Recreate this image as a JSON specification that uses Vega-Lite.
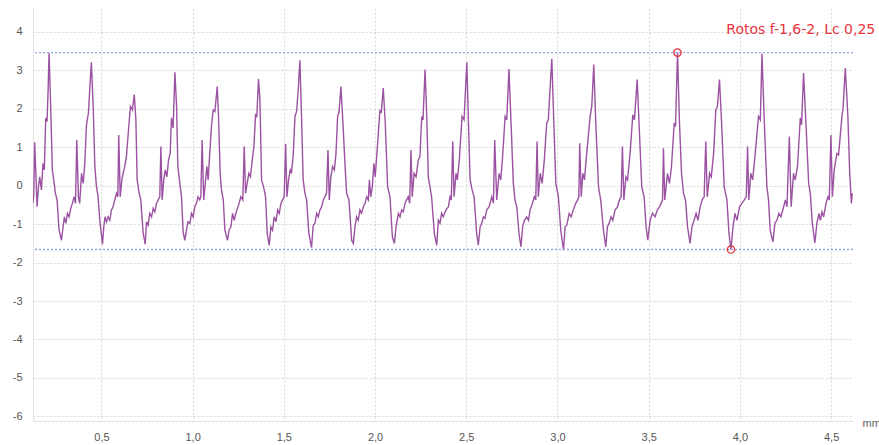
{
"$schema": "https://vega.github.io/schema/vega-lite/v6.json",
"width": 820, "height": 413,
"autosize": {"type": "none"},
"padding": {"left": 33, "top": 8, "right": 26, "bottom": 24},
"background": "white",
"config": {"view": {"stroke": null}, "font": "Liberation Sans"},
"datasets": {
"profile": [
{"x":0.124,"y":-0.46},{"x":0.129,"y":-0.29},{"x":0.134,"y":1.13},{"x":0.142,"y":0.15},{"x":0.147,"y":-0.55},{"x":0.155,"y":-0.03},{"x":0.162,"y":0.23},{"x":0.171,"y":-0.11},{"x":0.180,"y":0.58},{"x":0.187,"y":0.41},{"x":0.195,"y":1.76},{"x":0.202,"y":1.67},{"x":0.208,"y":2.50},{"x":0.213,"y":3.45},{"x":0.222,"y":2.06},{"x":0.231,"y":0.41},{"x":0.241,"y":0.06},{"x":0.248,"y":-0.20},{"x":0.257,"y":-0.37},{"x":0.268,"y":-1.16},{"x":0.281,"y":-1.42},{"x":0.290,"y":-1.07},{"x":0.297,"y":-0.81},{"x":0.305,"y":-0.98},{"x":0.314,"y":-0.72},{"x":0.323,"y":-0.81},{"x":0.332,"y":-0.59},{"x":0.341,"y":-0.46},{"x":0.350,"y":-0.29},{"x":0.358,"y":-0.46},{"x":0.365,"y":1.19},{"x":0.374,"y":-0.29},{"x":0.381,"y":-0.46},{"x":0.391,"y":0.32},{"x":0.400,"y":0.06},{"x":0.409,"y":0.58},{"x":0.418,"y":1.58},{"x":0.429,"y":1.89},{"x":0.436,"y":2.50},{"x":0.445,"y":3.21},{"x":0.455,"y":2.06},{"x":0.464,"y":0.50},{"x":0.473,"y":-0.03},{"x":0.482,"y":-0.29},{"x":0.491,"y":-0.90},{"x":0.506,"y":-1.52},{"x":0.513,"y":-1.07},{"x":0.520,"y":-0.81},{"x":0.528,"y":-0.94},{"x":0.537,"y":-0.81},{"x":0.546,"y":-0.90},{"x":0.555,"y":-0.63},{"x":0.564,"y":-0.55},{"x":0.573,"y":-0.37},{"x":0.583,"y":-0.20},{"x":0.590,"y":-0.29},{"x":0.595,"y":1.32},{"x":0.603,"y":-0.29},{"x":0.612,"y":0.15},{"x":0.619,"y":0.32},{"x":0.628,"y":0.50},{"x":0.637,"y":0.76},{"x":0.650,"y":1.54},{"x":0.659,"y":2.06},{"x":0.670,"y":1.97},{"x":0.680,"y":2.37},{"x":0.689,"y":1.71},{"x":0.696,"y":0.15},{"x":0.707,"y":-0.20},{"x":0.716,"y":-0.37},{"x":0.729,"y":-1.24},{"x":0.740,"y":-1.52},{"x":0.747,"y":-0.94},{"x":0.756,"y":-1.03},{"x":0.765,"y":-0.72},{"x":0.775,"y":-0.81},{"x":0.784,"y":-0.59},{"x":0.793,"y":-0.68},{"x":0.802,"y":-0.46},{"x":0.811,"y":-0.37},{"x":0.820,"y":-0.29},{"x":0.826,"y":1.02},{"x":0.833,"y":-0.37},{"x":0.842,"y":0.15},{"x":0.850,"y":0.41},{"x":0.859,"y":0.23},{"x":0.868,"y":0.67},{"x":0.877,"y":0.84},{"x":0.884,"y":1.76},{"x":0.893,"y":1.50},{"x":0.903,"y":2.95},{"x":0.912,"y":2.06},{"x":0.919,"y":0.50},{"x":0.930,"y":0.06},{"x":0.939,"y":-0.29},{"x":0.948,"y":-1.20},{"x":0.957,"y":-1.42},
{"x":0.966,"y":-1.16},{"x":0.975,"y":-0.94},{"x":0.985,"y":-0.98},{"x":0.994,"y":-0.72},{"x":1.003,"y":-0.81},{"x":1.012,"y":-0.55},{"x":1.021,"y":-0.46},{"x":1.030,"y":-0.29},{"x":1.039,"y":-0.37},{"x":1.045,"y":-0.29},{"x":1.052,"y":1.19},{"x":1.061,"y":-0.37},{"x":1.071,"y":0.15},{"x":1.078,"y":0.50},{"x":1.085,"y":0.15},{"x":1.094,"y":0.84},{"x":1.103,"y":1.54},{"x":1.113,"y":1.97},{"x":1.122,"y":1.93},{"x":1.135,"y":2.58},{"x":1.142,"y":1.80},{"x":1.151,"y":0.32},{"x":1.158,"y":-0.11},{"x":1.168,"y":-0.37},{"x":1.177,"y":-1.16},{"x":1.191,"y":-1.42},{"x":1.200,"y":-1.16},{"x":1.210,"y":-1.07},{"x":1.219,"y":-0.72},{"x":1.228,"y":-0.90},{"x":1.237,"y":-0.72},{"x":1.246,"y":-0.59},{"x":1.255,"y":-0.46},{"x":1.264,"y":-0.29},{"x":1.275,"y":-0.37},{"x":1.283,"y":1.02},{"x":1.290,"y":-0.20},{"x":1.299,"y":0.06},{"x":1.308,"y":0.32},{"x":1.317,"y":0.23},{"x":1.327,"y":0.67},{"x":1.336,"y":1.02},{"x":1.345,"y":1.84},{"x":1.352,"y":1.80},{"x":1.361,"y":2.77},{"x":1.369,"y":2.23},{"x":1.378,"y":0.15},{"x":1.389,"y":-0.03},{"x":1.400,"y":-0.29},{"x":1.409,"y":-1.24},{"x":1.420,"y":-1.55},{"x":1.429,"y":-1.07},{"x":1.438,"y":-1.16},{"x":1.447,"y":-0.81},{"x":1.457,"y":-0.94},{"x":1.466,"y":-0.63},{"x":1.475,"y":-0.72},{"x":1.484,"y":-0.46},{"x":1.493,"y":-0.37},{"x":1.502,"y":-0.29},{"x":1.510,"y":1.09},{"x":1.517,"y":-0.29},{"x":1.526,"y":0.15},{"x":1.535,"y":0.41},{"x":1.542,"y":0.32},{"x":1.552,"y":0.84},{"x":1.561,"y":1.80},{"x":1.570,"y":1.93},{"x":1.579,"y":2.50},{"x":1.588,"y":3.26},{"x":1.597,"y":1.80},{"x":1.606,"y":0.15},{"x":1.616,"y":-0.20},{"x":1.625,"y":-0.37},{"x":1.637,"y":-1.24},{"x":1.652,"y":-1.61},{"x":1.661,"y":-1.03},{"x":1.670,"y":-0.98},{"x":1.680,"y":-0.72},{"x":1.689,"y":-0.81},{"x":1.698,"y":-0.63},{"x":1.707,"y":-0.55},{"x":1.716,"y":-0.37},{"x":1.725,"y":-0.29},{"x":1.734,"y":-0.20},{"x":1.742,"y":0.93},{"x":1.749,"y":-0.37},{"x":1.758,"y":0.23},{"x":1.767,"y":0.50},{"x":1.777,"y":0.41},{"x":1.786,"y":0.84},{"x":1.795,"y":1.82},{"x":1.802,"y":1.89},{"x":1.813,"y":2.58},{"x":1.824,"y":1.63},
{"x":1.835,"y":0.58},{"x":1.844,"y":-0.20},{"x":1.857,"y":-0.37},{"x":1.872,"y":-1.42},{"x":1.881,"y":-1.50},{"x":1.890,"y":-1.07},{"x":1.899,"y":-0.81},{"x":1.908,"y":-0.90},{"x":1.917,"y":-0.63},{"x":1.926,"y":-0.72},{"x":1.936,"y":-0.55},{"x":1.945,"y":-0.46},{"x":1.954,"y":-0.29},{"x":1.963,"y":-0.37},{"x":1.969,"y":0.15},{"x":1.976,"y":-0.29},{"x":1.985,"y":-0.03},{"x":1.994,"y":0.58},{"x":2.001,"y":0.23},{"x":2.009,"y":0.76},{"x":2.018,"y":1.37},{"x":2.027,"y":1.97},{"x":2.034,"y":1.89},{"x":2.045,"y":2.54},{"x":2.056,"y":1.63},{"x":2.069,"y":-0.03},{"x":2.082,"y":-0.29},{"x":2.095,"y":-1.33},{"x":2.106,"y":-1.50},{"x":2.115,"y":-1.07},{"x":2.128,"y":-0.72},{"x":2.137,"y":-0.81},{"x":2.146,"y":-0.63},{"x":2.155,"y":-0.68},{"x":2.164,"y":-0.46},{"x":2.173,"y":-0.37},{"x":2.182,"y":-0.29},{"x":2.190,"y":-0.46},{"x":2.197,"y":0.93},{"x":2.204,"y":-0.29},{"x":2.214,"y":0.32},{"x":2.225,"y":0.23},{"x":2.237,"y":0.67},{"x":2.246,"y":0.76},{"x":2.256,"y":1.80},{"x":2.263,"y":1.71},{"x":2.274,"y":3.02},{"x":2.283,"y":1.89},{"x":2.292,"y":0.23},{"x":2.301,"y":-0.03},{"x":2.310,"y":-0.29},{"x":2.325,"y":-1.24},{"x":2.338,"y":-1.55},{"x":2.347,"y":-0.90},{"x":2.356,"y":-0.98},{"x":2.365,"y":-0.72},{"x":2.374,"y":-0.81},{"x":2.389,"y":-0.63},{"x":2.402,"y":-0.55},{"x":2.411,"y":-0.29},{"x":2.418,"y":-0.37},{"x":2.426,"y":1.15},{"x":2.433,"y":-0.29},{"x":2.444,"y":0.32},{"x":2.451,"y":0.15},{"x":2.462,"y":0.67},{"x":2.477,"y":1.80},{"x":2.488,"y":1.71},{"x":2.503,"y":3.21},{"x":2.512,"y":1.63},{"x":2.521,"y":0.15},{"x":2.532,"y":-0.11},{"x":2.543,"y":-0.29},{"x":2.557,"y":-1.24},{"x":2.566,"y":-1.55},{"x":2.576,"y":-1.07},{"x":2.585,"y":-0.98},{"x":2.594,"y":-0.81},{"x":2.603,"y":-0.85},{"x":2.612,"y":-0.63},{"x":2.625,"y":-0.55},{"x":2.640,"y":-0.29},{"x":2.649,"y":-0.46},{"x":2.656,"y":1.19},
{"x":2.667,"y":-0.37},{"x":2.680,"y":0.32},{"x":2.689,"y":0.15},{"x":2.698,"y":0.67},{"x":2.713,"y":1.80},{"x":2.722,"y":1.71},{"x":2.734,"y":3.03},{"x":2.745,"y":1.71},{"x":2.758,"y":0.06},{"x":2.767,"y":-0.37},{"x":2.777,"y":-0.55},{"x":2.789,"y":-1.24},{"x":2.800,"y":-1.59},{"x":2.809,"y":-1.07},{"x":2.819,"y":-0.90},{"x":2.831,"y":-0.81},{"x":2.841,"y":-0.90},{"x":2.850,"y":-0.63},{"x":2.863,"y":-0.46},{"x":2.873,"y":-0.29},{"x":2.881,"y":-0.37},{"x":2.888,"y":1.15},{"x":2.895,"y":-0.29},{"x":2.906,"y":0.32},{"x":2.916,"y":0.06},{"x":2.928,"y":0.67},{"x":2.941,"y":1.63},{"x":2.950,"y":1.71},{"x":2.959,"y":2.50},{"x":2.969,"y":3.30},{"x":2.980,"y":1.63},{"x":2.991,"y":0.06},{"x":3.005,"y":-0.29},{"x":3.018,"y":-1.16},{"x":3.033,"y":-1.68},{"x":3.042,"y":-1.07},{"x":3.051,"y":-1.03},{"x":3.064,"y":-0.72},{"x":3.075,"y":-0.81},{"x":3.087,"y":-0.63},{"x":3.100,"y":-0.46},{"x":3.111,"y":-0.37},{"x":3.117,"y":-0.29},{"x":3.122,"y":1.10},{"x":3.130,"y":-0.29},{"x":3.139,"y":0.32},{"x":3.148,"y":0.15},{"x":3.157,"y":0.67},{"x":3.179,"y":1.80},{"x":3.188,"y":2.06},{"x":3.199,"y":3.15},{"x":3.210,"y":1.63},{"x":3.225,"y":-0.03},{"x":3.237,"y":-0.37},{"x":3.252,"y":-1.16},{"x":3.265,"y":-1.59},{"x":3.274,"y":-1.07},{"x":3.283,"y":-0.98},{"x":3.294,"y":-0.81},{"x":3.303,"y":-0.90},{"x":3.316,"y":-0.63},{"x":3.329,"y":-0.55},{"x":3.340,"y":-0.37},{"x":3.349,"y":-0.29},{"x":3.356,"y":1.02},{"x":3.364,"y":-0.37},{"x":3.375,"y":0.23},{"x":3.384,"y":0.15},{"x":3.398,"y":0.84},{"x":3.413,"y":1.84},{"x":3.422,"y":1.71},{"x":3.437,"y":2.76},{"x":3.448,"y":1.54},{"x":3.462,"y":-0.03},{"x":3.475,"y":-0.29},{"x":3.486,"y":-1.07},{"x":3.495,"y":-1.42},{"x":3.508,"y":-0.90},{"x":3.521,"y":-0.72},
{"x":3.535,"y":-0.81},{"x":3.548,"y":-0.63},{"x":3.559,"y":-0.55},{"x":3.568,"y":-0.46},{"x":3.576,"y":-0.37},{"x":3.581,"y":0.97},{"x":3.588,"y":-0.37},{"x":3.603,"y":0.32},{"x":3.614,"y":0.06},{"x":3.625,"y":0.50},{"x":3.640,"y":1.63},{"x":3.647,"y":1.54},{"x":3.658,"y":3.46},{"x":3.669,"y":1.63},{"x":3.680,"y":0.32},{"x":3.691,"y":-0.20},{"x":3.702,"y":-0.37},{"x":3.713,"y":-1.07},{"x":3.727,"y":-1.50},{"x":3.737,"y":-1.07},{"x":3.749,"y":-0.90},{"x":3.760,"y":-0.72},{"x":3.770,"y":-0.90},{"x":3.782,"y":-0.55},{"x":3.793,"y":-0.37},{"x":3.804,"y":-0.29},{"x":3.813,"y":1.15},{"x":3.821,"y":-0.29},{"x":3.834,"y":0.32},{"x":3.843,"y":0.23},{"x":3.856,"y":0.84},{"x":3.868,"y":1.97},{"x":3.877,"y":2.06},{"x":3.888,"y":2.76},{"x":3.899,"y":1.71},{"x":3.914,"y":-0.03},{"x":3.929,"y":-0.37},{"x":3.940,"y":-1.24},{"x":3.951,"y":-1.66},{"x":3.962,"y":-1.07},{"x":3.973,"y":-0.72},{"x":3.984,"y":-0.90},{"x":3.998,"y":-0.55},{"x":4.011,"y":-0.46},{"x":4.024,"y":-0.37},{"x":4.035,"y":-0.29},{"x":4.042,"y":1.02},{"x":4.049,"y":-0.37},{"x":4.060,"y":0.32},{"x":4.070,"y":0.15},{"x":4.084,"y":0.84},{"x":4.102,"y":1.80},{"x":4.112,"y":1.71},{"x":4.121,"y":3.43},{"x":4.134,"y":1.63},{"x":4.148,"y":-0.03},{"x":4.157,"y":-0.37},{"x":4.166,"y":-1.16},{"x":4.181,"y":-1.46},{"x":4.192,"y":-0.98},{"x":4.203,"y":-0.90},{"x":4.214,"y":-0.72},{"x":4.225,"y":-0.81},{"x":4.240,"y":-0.55},
{"x":4.249,"y":-0.37},{"x":4.258,"y":-0.55},{"x":4.271,"y":1.28},{"x":4.281,"y":-0.55},{"x":4.294,"y":0.32},{"x":4.303,"y":0.15},{"x":4.316,"y":0.50},{"x":4.331,"y":1.76},{"x":4.338,"y":1.58},{"x":4.349,"y":2.93},{"x":4.362,"y":1.63},{"x":4.377,"y":0.06},{"x":4.386,"y":-0.20},{"x":4.397,"y":-0.98},{"x":4.411,"y":-1.49},{"x":4.422,"y":-0.98},{"x":4.433,"y":-0.72},{"x":4.441,"y":-0.90},{"x":4.450,"y":-0.68},{"x":4.459,"y":-0.81},{"x":4.472,"y":-0.46},{"x":4.483,"y":-0.29},{"x":4.490,"y":-0.37},{"x":4.499,"y":1.32},{"x":4.507,"y":-0.29},{"x":4.517,"y":0.41},{"x":4.532,"y":0.84},{"x":4.541,"y":0.80},{"x":4.560,"y":1.84},{"x":4.565,"y":1.97},{"x":4.578,"y":3.06},{"x":4.592,"y":1.80},{"x":4.602,"y":0.32},{"x":4.611,"y":-0.46},{"x":4.616,"y":-0.20}
],
"limits": [{"y": 3.46}, {"y": -1.66}],
"extremes": [{"x": 3.658, "y": 3.46}, {"x": 3.951, "y": -1.66}],
"note": [{"x": 4.742, "y": 4.05, "label": "Rotos f-1,6-2, Lc 0,25"}]
},
"layer": [
{
"data": {"name": "profile"},
"mark": {"type": "line", "color": "#9c52a2", "strokeWidth": 1.4, "clip": true},
"encoding": {
"x": {"field": "x", "type": "quantitative",
"scale": {"domain": [0.125, 4.62], "nice": false, "zero": false},
"axis": {"values": [0.5,1,1.5,2,2.5,3,3.5,4,4.5], "labelExpr": "replace(format(datum.value,'.1f'),'.',',')",
"title": "mm", "titleAngle": 0, "titleAlign": "left", "titleBaseline": "middle", "titleX": 829, "titleY": 2,
"titleFontSize": 11, "titleFontWeight": "normal", "titleColor": "#666",
"ticks": false, "labelPadding": 10, "labelFontSize": 11, "labelColor": "#555",
"grid": true, "gridColor": "#d6d6d6", "gridDash": [2,2], "domainColor": "#e2e2e2"}},
"y": {"field": "y", "type": "quantitative",
"scale": {"domain": [-6.12, 4.62], "nice": false, "zero": false},
"axis": {"values": [-6,-5,-4,-3,-2,-1,0,1,2,3,4], "labelExpr": "'' + datum.value", "title": null,
"ticks": false, "labelPadding": 11, "labelFontSize": 11, "labelColor": "#555",
"grid": true, "gridColor": "#d6d6d6", "gridDash": [2,2], "domainColor": "#e2e2e2"}}
}
},
{
"data": {"name": "limits"},
"mark": {"type": "rule", "color": "#8fa7e6", "strokeDash": [2,2], "strokeWidth": 1.3},
"encoding": {"y": {"field": "y", "type": "quantitative"}}
},
{
"data": {"name": "extremes"},
"mark": {"type": "point", "filled": false, "color": "#e0353a", "size": 55, "strokeWidth": 1.3, "opacity": 1},
"encoding": {"x": {"field": "x", "type": "quantitative"}, "y": {"field": "y", "type": "quantitative"}}
},
{
"data": {"name": "note"},
"mark": {"type": "text", "align": "right", "baseline": "middle", "color": "#e8343c", "fontSize": 14, "font": "DejaVu Sans"},
"encoding": {"x": {"field": "x", "type": "quantitative"}, "y": {"field": "y", "type": "quantitative"}, "text": {"field": "label"}}
}
]
}
